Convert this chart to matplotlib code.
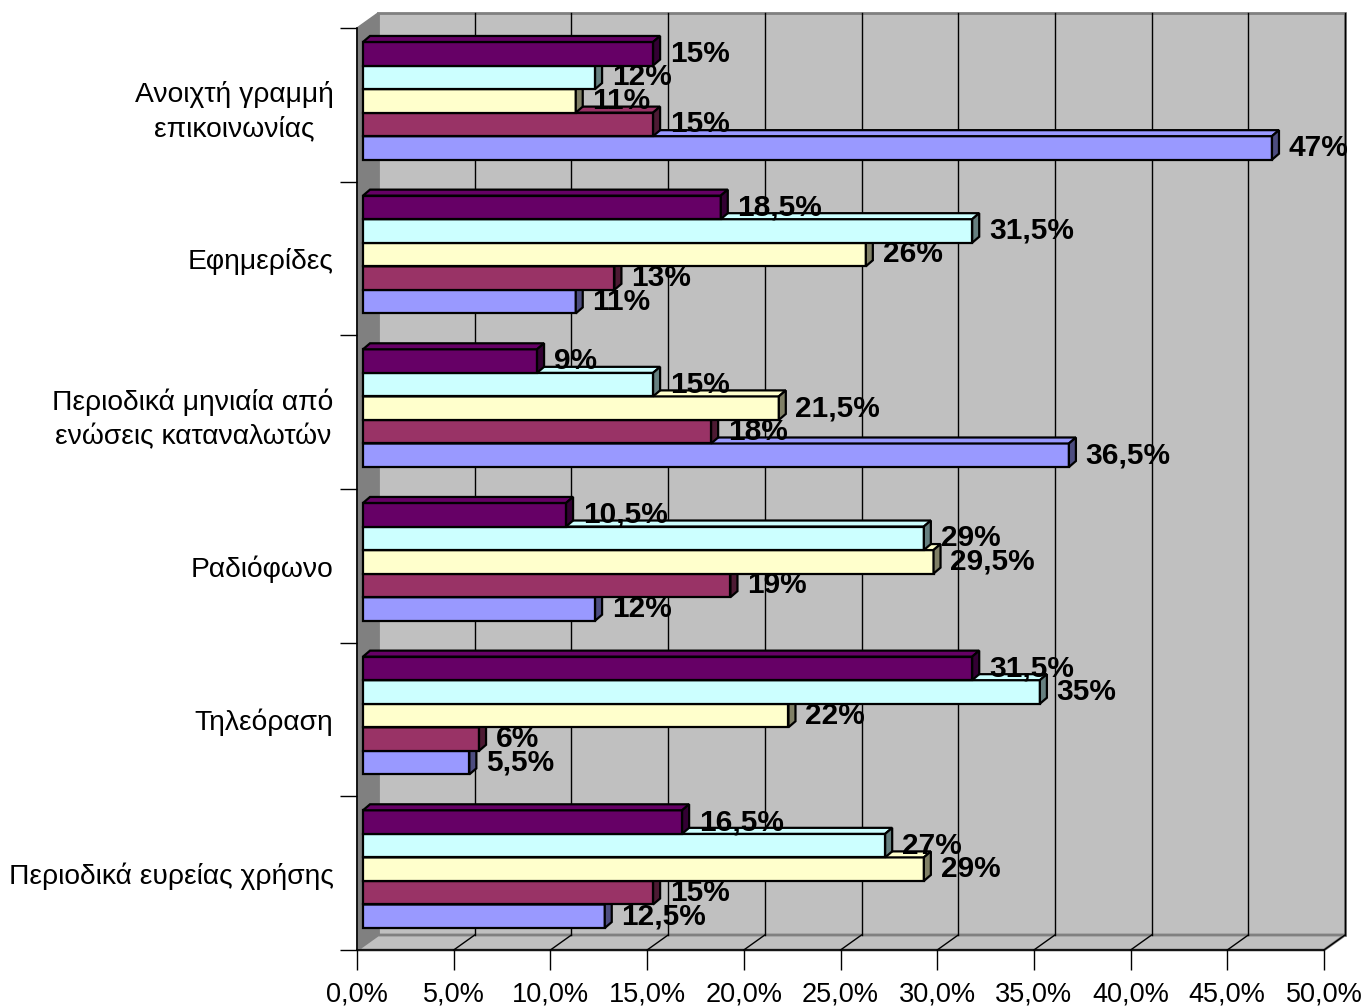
import matplotlib
matplotlib.use("Agg")
import matplotlib.pyplot as plt
from matplotlib.patches import Polygon
import numpy as np

plt.rcParams["font.family"] = ["Liberation Sans", "DejaVu Sans"]

# --- Data (top to bottom) ---
categories = [
    "Ανοιχτή γραμμή\nεπικοινωνίας",
    "Εφημερίδες",
    "Περιοδικά μηνιαία από\nενώσεις καταναλωτών",
    "Ραδιόφωνο",
    "Τηλεόραση",
    "Περιοδικά ευρείας χρήσης",
]
# one list per series, in the order the bars appear inside each group (top first)
series_1 = [15, 18.5, 9, 10.5, 31.5, 16.5]
series_2 = [12, 31.5, 15, 29, 35, 27]
series_3 = [11, 26, 21.5, 29.5, 22, 29]
series_4 = [15, 13, 18, 19, 6, 15]
series_5 = [47, 11, 36.5, 12, 5.5, 12.5]
series = [series_1, series_2, series_3, series_4, series_5]
colors = ["#660066", "#CCFFFF", "#FFFFCC", "#993366", "#9999FF"]
x_ticks = np.arange(0, 51, 5)
x_ticklabels = [f"{t:.1f}%".replace(".", ",") for t in x_ticks]


def fmt_label(v):
    s = f"{v:g}".replace(".", ",")
    return s + "%"


W, H = 1367, 1008
fig = plt.figure(figsize=(W / 100, H / 100), dpi=100)
# front floor edge / axis: x 357..1324 px, y 28..950 px
left, right, top, bottom = 357, 1324, 28, 950
ax = fig.add_axes([left / W, 1 - bottom / H, (right - left) / W, (bottom - top) / H])
ax.set_xlim(0, 50)
ax.set_ylim(0, 6)
for s in ax.spines.values():
    s.set_visible(False)
ax.patch.set_visible(False)

# pixel -> data unit conversions
px_x = 50 / (right - left)
px_y = 6 / (bottom - top)

# depth offsets
WX, WY = 21 * px_x, 15 * px_y      # back wall
BX, BY = 6 * px_x, 4 * px_y        # bar front plane
DX, DY = 7 * px_x, 6 * px_y        # bar thickness

wall_c = "#C0C0C0"
edge_gray = "#808080"

# --- walls and floor ---
ax.add_patch(Polygon([(WX, WY), (50 + WX, WY), (50 + WX, 6 + WY), (WX, 6 + WY)],
                     closed=True, facecolor=wall_c, edgecolor=edge_gray, lw=2,
                     clip_on=False, zorder=0))
ax.add_patch(Polygon([(0, 0), (WX, WY), (WX, 6 + WY), (0, 6)],
                     closed=True, facecolor=edge_gray, edgecolor=edge_gray, lw=1,
                     clip_on=False, zorder=0.5))
ax.add_patch(Polygon([(0, 0), (50, 0), (50 + WX, WY), (WX, WY)],
                     closed=True, facecolor=wall_c, edgecolor=edge_gray, lw=2,
                     clip_on=False, zorder=0.5))
for t in x_ticks[1:]:
    ax.plot([t + WX, t + WX], [WY, 6 + WY], color="black", lw=1, zorder=1, clip_on=False)
    ax.plot([t, t + WX], [0, WY], color="black", lw=1, zorder=1, clip_on=False)
ax.plot([0, 50], [0, 0], color="black", lw=1.2, zorder=1, clip_on=False)
ax.plot([0, 0], [0, 6], color="black", lw=1.2, zorder=1, clip_on=False)

# --- bars ---
n_cat = len(categories)
bar_h = 23.6 / 154
centers = n_cat - np.arange(n_cat) - 0.5
for j in range(len(series) - 1, -1, -1):
    vals = np.array(series[j], dtype=float)
    yc = centers + (2 - j) * bar_h
    z = 10 - j
    col = colors[j]
    side = tuple(0.5 * c for c in matplotlib.colors.to_rgb(col))
    ax.barh(yc + BY, vals, left=BX, height=bar_h, color=col, edgecolor="black",
            lw=1.6, zorder=z, clip_on=False)
    for v, y in zip(vals, yc):
        y0 = y - bar_h / 2 + BY
        y1 = y + bar_h / 2 + BY
        x1 = BX + v
        ax.add_patch(Polygon([(BX, y1), (x1, y1), (x1 + DX, y1 + DY), (BX + DX, y1 + DY)],
                             closed=True, facecolor=col, edgecolor="black", lw=1.6,
                             zorder=z, clip_on=False))
        ax.add_patch(Polygon([(x1, y0), (x1 + DX, y0 + DY), (x1 + DX, y1 + DY), (x1, y1)],
                             closed=True, facecolor=side, edgecolor="black", lw=1.6,
                             zorder=z, clip_on=False))
        ax.text(x1 + DX + 0.5, y + BY, fmt_label(v), ha="left", va="center",
                fontsize=21.5, fontweight="bold", color="black", zorder=20)

# --- axes ticks ---
ax.set_xticks(x_ticks)
ax.set_xticklabels(x_ticklabels, fontsize=19.5)
ax.tick_params(axis="x", direction="out", length=14.5, width=1, pad=8, color="black")

ax.set_yticks(np.arange(0, 7))
ax.set_yticklabels([])
ax.tick_params(axis="y", which="major", direction="out", length=12, width=1, color="black")
ax.set_yticks(centers, minor=True)
ax.set_yticklabels(categories, minor=True, fontsize=20.3, multialignment="center",
                   linespacing=1.4)
ax.tick_params(axis="y", which="minor", length=0, pad=17)

fig.savefig("out.png", dpi=100)
